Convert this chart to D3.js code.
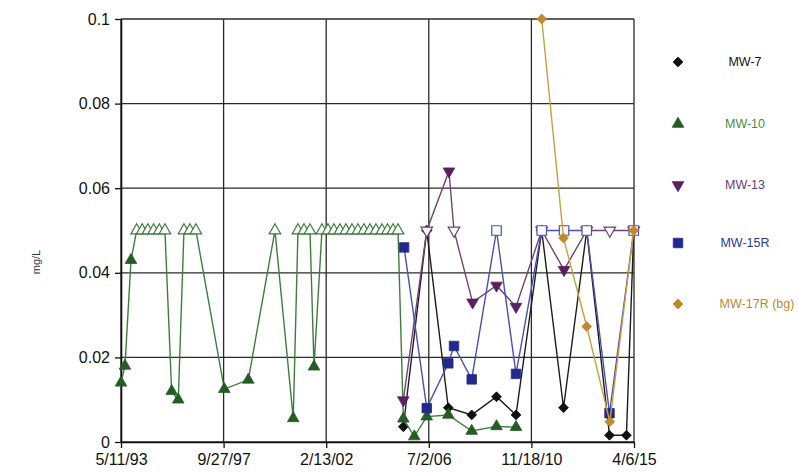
<!DOCTYPE html>
<html>
<head>
<meta charset="utf-8">
<script src="https://cdn.jsdelivr.net/npm/d3@7"></script>
<style>
  html, body { margin: 0; padding: 0; background: #fff; }
  svg { display: block; font-family: "Liberation Sans", Arial, sans-serif; }
</style>
</head>
<body>
<svg id="chart" width="798" height="473"></svg>
<script>
// Sampling dates, concentrations (mg/L) and non-detect flags (1 = reported at the
// detection limit, drawn hollow) for each monitoring well.
const mw7Dates  = ["2005-05-31","2006-05-31","2007-05-02","2008-05-01","2009-05-23","2010-03-23",
                   "2011-04-28","2012-04-02","2013-03-30","2014-03-20","2014-12-09","2015-04-02"];
const mw7Values = [0.0036,0.05,0.0081,0.0064,0.0107,0.0064,0.05,0.0081,0.05,0.0016,0.0016,0.05];
const mw7Open   = [0,1,0,0,0,0,1,0,1,0,0,1];

const mw10Dates  = ["1993-05-11","1993-07-12","1993-10-14","1994-01-10","1994-04-07","1994-07-05",
                    "1994-10-02","1994-12-29","1995-03-27","1995-07-10","1995-10-21","1996-01-18",
                    "1996-04-20","1996-07-22","1997-10-08","1998-10-17","1999-12-07","2000-09-17",
                    "2000-11-30","2001-03-04","2001-06-05","2001-08-07","2001-12-09","2002-03-13",
                    "2002-06-14","2002-09-16","2002-12-18","2003-03-22","2003-06-23","2003-09-25",
                    "2003-12-27","2004-03-30","2004-07-02","2004-09-26","2004-12-21","2005-03-09",
                    "2005-05-31","2005-11-18","2006-05-31","2007-05-02","2008-05-01","2009-05-23",
                    "2010-03-23"];
const mw10Values = [0.014,0.018,0.043,0.05,0.05,0.05,0.05,0.05,0.05,0.012,0.010,0.05,
                    0.05,0.05,0.0125,0.0147,0.05,0.0056,0.05,0.05,0.05,0.0178,0.05,0.05,
                    0.05,0.05,0.05,0.05,0.05,0.05,0.05,0.05,0.05,0.05,0.05,0.05,
                    0.0055,0.0013,0.006,0.0064,0.0026,0.0037,0.0035];
const mw10Open   = [0,0,0,1,1,1,1,1,1,0,0,1,
                    1,1,0,0,1,0,1,1,1,0,1,1,
                    1,1,1,1,1,1,1,1,1,1,1,1,
                    0,0,0,0,0,0,0];

const mw13Dates  = ["2005-05-31","2006-05-31","2007-05-12","2007-07-30","2008-05-15","2009-05-23",
                    "2010-03-23","2011-04-28","2012-04-10","2013-03-30","2014-03-25","2015-04-02"];
const mw13Values = [0.0099,0.05,0.064,0.05,0.033,0.037,0.032,0.05,0.0407,0.05,0.05,0.05];
const mw13Open   = [0,1,0,1,0,0,0,1,0,1,1,1];

const mw15Dates  = ["2005-06-12","2006-05-31","2007-05-02","2007-07-30","2008-05-01","2009-05-23",
                    "2010-03-23","2011-04-28","2012-04-10","2013-03-30","2014-03-20","2015-04-02"];
const mw15Values = [0.046,0.008,0.0186,0.0227,0.0148,0.05,0.0161,0.05,0.05,0.05,0.0068,0.05];
const mw15Open   = [0,0,0,0,0,1,0,1,1,1,0,1];

const mw17Dates  = ["2011-04-28","2012-04-02","2013-03-30","2014-03-25","2015-04-02"];
const mw17Values = [0.1,0.0482,0.0273,0.0048,0.05];
const mw17Open   = [0,0,0,0,0];

// Axis ticks
const xTickDates  = ["1993-05-11","1997-09-27","2002-02-13","2006-07-02","2010-11-18","2015-04-06"];
const xTickLabels = ["5/11/93","9/27/97","2/13/02","7/2/06","11/18/10","4/6/15"];
const yTickValues = [0,0.02,0.04,0.06,0.08,0.1];
const yTickLabels = ["0","0.02","0.04","0.06","0.08","0.1"];

const seriesNames = ["MW-7","MW-10","MW-13","MW-15R","MW-17R (bg)"];

const parse = d3.timeParse("%Y-%m-%d");
const svg = d3.select("#chart");

const plot = { left: 121, right: 634, top: 19, bottom: 442 };
const x = d3.scaleTime()
  .domain([parse(xTickDates[0]), parse(xTickDates[xTickDates.length - 1])])
  .range([plot.left, plot.right]);
const y = d3.scaleLinear().domain([0, 0.1]).range([plot.bottom, plot.top]);

// Gridlines
const grid = svg.append("g").attr("stroke", "#2a2a2a").attr("stroke-width", 1.3);
grid.selectAll("line.h").data(yTickValues).join("line")
  .attr("x1", plot.left).attr("x2", plot.right)
  .attr("y1", d => y(d)).attr("y2", d => y(d));
grid.selectAll("line.v").data(xTickDates).join("line")
  .attr("y1", plot.top).attr("y2", plot.bottom)
  .attr("x1", d => x(parse(d))).attr("x2", d => x(parse(d)));

// Axes
const xAxis = svg.append("g")
  .attr("transform", `translate(0,${plot.bottom})`)
  .call(d3.axisBottom(x)
    .tickValues(xTickDates.map(parse))
    .tickFormat((d, i) => xTickLabels[i])
    .tickSize(6).tickSizeOuter(0));
const yAxis = svg.append("g")
  .attr("transform", `translate(${plot.left},0)`)
  .call(d3.axisLeft(y)
    .tickValues(yTickValues)
    .tickFormat((d, i) => yTickLabels[i])
    .tickSize(6).tickSizeOuter(0));
[xAxis, yAxis].forEach(a => {
  a.select(".domain").attr("stroke", "#111").attr("stroke-width", 1.6);
  a.selectAll(".tick line").attr("stroke", "#111").attr("stroke-width", 1.3);
  a.selectAll(".tick text").attr("fill", "#111")
    .style("font-family", '"Liberation Sans", Arial, sans-serif')
    .style("font-size", "16px");
});
xAxis.selectAll(".tick text").attr("dy", "0.95em").attr("y", 8);
yAxis.selectAll(".tick text").attr("x", -11);

// Y-axis title
svg.append("text")
  .attr("transform", "translate(40,262) rotate(-90)")
  .attr("text-anchor", "middle")
  .attr("font-size", 11).attr("fill", "#333")
  .text("mg/L");

// Marker shapes
function markerPath(kind) {
  if (kind === "diamond") return d3.symbol().type(d3.symbolSquare).size(48)();
  if (kind === "square") return d3.symbol().type(d3.symbolSquare).size(90)();
  return d3.symbol().type(d3.symbolTriangle).size(58)();
}
function markerRotate(kind) {
  if (kind === "diamond") return 45;
  if (kind === "triDown") return 180;
  return 0;
}

const series = [
  { name: seriesNames[0], dates: mw7Dates,  values: mw7Values,  open: mw7Open,
    kind: "diamond", line: "#1c1c1c", mark: "#111111", text: "#111111" },
  { name: seriesNames[1], dates: mw10Dates, values: mw10Values, open: mw10Open,
    kind: "triUp", line: "#3f7d3f", mark: "#245c24", text: "#3f8f3f" },
  { name: seriesNames[2], dates: mw13Dates, values: mw13Values, open: mw13Open,
    kind: "triDown", line: "#6e4476", mark: "#5a1f5e", text: "#6a3c74" },
  { name: seriesNames[3], dates: mw15Dates, values: mw15Values, open: mw15Open,
    kind: "square", line: "#4a4fb5", mark: "#23288c", text: "#2c3a96" },
  { name: seriesNames[4], dates: mw17Dates, values: mw17Values, open: mw17Open,
    kind: "diamond", line: "#caa03c", mark: "#c08a2a", text: "#b98a30" }
];

const line = d3.line().x(d => x(d.date)).y(d => y(d.value));

series.forEach(s => {
  const pts = s.dates.map((d, i) => ({ date: parse(d), value: s.values[i], open: s.open[i] }));
  const g = svg.append("g");
  g.append("path").datum(pts)
    .attr("fill", "none").attr("stroke", s.line).attr("stroke-width", 1.4)
    .attr("d", line);
  g.selectAll("path.m").data(pts).join("path")
    .attr("class", "m")
    .attr("d", markerPath(s.kind))
    .attr("transform", d => `translate(${x(d.date)},${y(d.value)}) rotate(${markerRotate(s.kind)})`)
    .attr("fill", d => d.open ? "#fff" : s.mark)
    .attr("stroke", d => d.open ? s.line : s.mark)
    .attr("stroke-width", d => d.open ? 1.2 : 0.8);
});

// Legend
const legendY = [62, 124, 185, 243, 304];
const legend = svg.append("g");
series.forEach((s, i) => {
  legend.append("path")
    .attr("d", markerPath(s.kind))
    .attr("transform", `translate(678,${legendY[i]}) rotate(${markerRotate(s.kind)})`)
    .attr("fill", s.mark).attr("stroke", s.mark).attr("stroke-width", 0.8);
  legend.append("text")
    .attr("x", i === 4 ? 757 : 745).attr("y", legendY[i])
    .attr("dy", "0.35em").attr("text-anchor", "middle")
    .attr("font-size", 12.5).attr("fill", s.text)
    .text(s.name);
});
</script>
</body>
</html>
